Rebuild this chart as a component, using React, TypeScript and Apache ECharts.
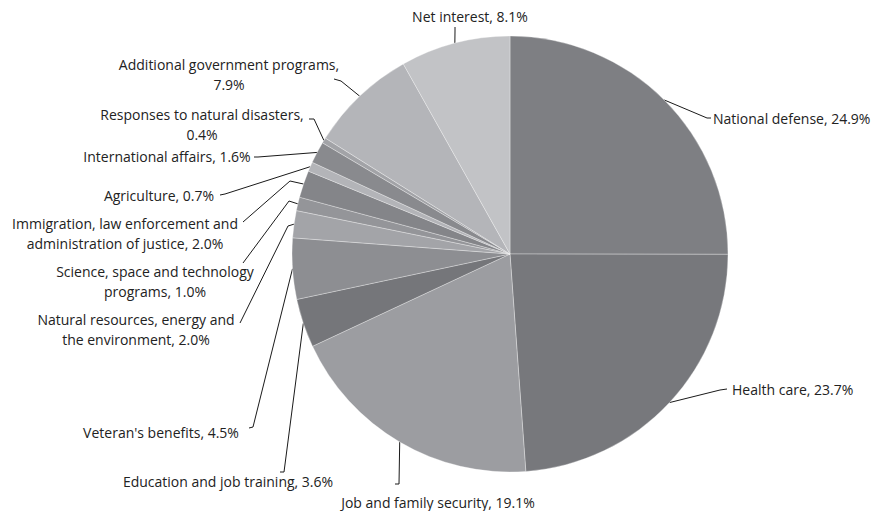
import React, { useEffect, useRef } from "react";
import * as echarts from "echarts";

const categories = [
  "National defense",
  "Health care",
  "Job and family security",
  "Education and job training",
  "Veteran's benefits",
  "Natural resources, energy and\nthe environment",
  "Science, space and technology\nprograms",
  "Immigration, law enforcement and\nadministration of justice",
  "Agriculture",
  "International affairs",
  "Responses to natural disasters",
  "Additional government programs",
  "Net interest",
];
const values = [24.9, 23.7, 19.1, 3.6, 4.5, 2.0, 1.0, 2.0, 0.7, 1.6, 0.4, 7.9, 8.1];
// whether the value goes onto its own line
const valueOnNewLine = [false, false, false, false, false, false, false, false, false, false, true, true, false];
const colors = [
  "#7e7f83", "#77787c", "#9c9da1", "#75767a", "#8d8e92", "#a3a4a8", "#949599",
  "#848589", "#b3b4b8", "#898a8e", "#a2a3a7", "#b4b5b9", "#c2c3c6",
];

// label placement: [x, y, align] and leader line bend/end points
const labelPos: [number, number, string][] = [
  [713, 118, "left"],
  [732, 389, "left"],
  [438, 502, "center"],
  [228, 481, "center"],
  [161, 432, "center"],
  [136, 329, "center"],
  [155, 281, "center"],
  [125, 233, "center"],
  [159, 195, "center"],
  [167, 156, "center"],
  [202, 124, "center"],
  [229, 74, "center"],
  [470, 16, "center"],
];
const linePts: number[][][] = [
  [[707, 118], [711, 118]],
  [[720, 390], [727, 389]],
  [[399, 484], [395, 484]],
  [[284, 472], [280, 472]],
  [[253, 427], [249, 428]],
  [[288, 226], [240, 323]],
  [[289, 201], [243, 263]],
  [[290, 181], [243, 222]],
  [[225, 194], [220, 195]],
  [[258, 157], [254, 157]],
  [[314, 119], [309, 119]],
  [[341, 81], [334, 79]],
  [[455, 31], [455, 27]],
];

const CX = 510;
const CY = 254;
const R = 218;

export default function App() {
  const ref = useRef<HTMLDivElement>(null);
  useEffect(() => {
    if (!ref.current) return;
    const chart = echarts.init(ref.current, null, { renderer: "svg" });
    const total = values.reduce((a, b) => a + b, 0);
    const edges: number[][] = [];
    let cum = 0;
    values.forEach((v) => {
      const th = ((cum + v / 2) / total) * Math.PI * 2;
      edges.push([CX + R * Math.sin(th), CY - R * Math.cos(th)]);
      cum += v;
    });
    const data = categories.map((c, i) => ({
      name: c,
      value: values[i],
      itemStyle: { color: colors[i] },
    }));
    chart.setOption({
      animation: false,
      series: [
        {
          type: "pie",
          center: [CX, CY],
          radius: [0, R],
          startAngle: 90,
          clockwise: true,
          avoidLabelOverlap: false,
          itemStyle: { borderColor: "rgba(255,255,255,0.45)", borderWidth: 0.7 },
          label: {
            show: true,
            position: "outside",
            fontFamily: "Open Sans",
            fontSize: 14,
            color: "#222222",
            lineHeight: 20,
            formatter: (p: any) =>
              `${p.name},${valueOnNewLine[p.dataIndex] ? "\n" : " "}${values[p.dataIndex].toFixed(1)}%`,
          },
          labelLine: {
            show: true,
            lineStyle: { color: "#1a1a1a", width: 1 },
          },
          labelLayout: (p: any) => {
            const i = p.dataIndex;
            const [x, y, align] = labelPos[i];
            return {
              x,
              y,
              align,
              verticalAlign: "middle",
              labelLinePoints: [edges[i], linePts[i][0], linePts[i][1]],
            };
          },
          emphasis: { disabled: true },
          data,
        },
      ],
    });
    return () => chart.dispose();
  }, []);
  return (
    <div
      ref={ref}
      style={{ position: "fixed", left: 0, top: 0, width: 872, height: 511, background: "#fff" }}
    />
  );
}
